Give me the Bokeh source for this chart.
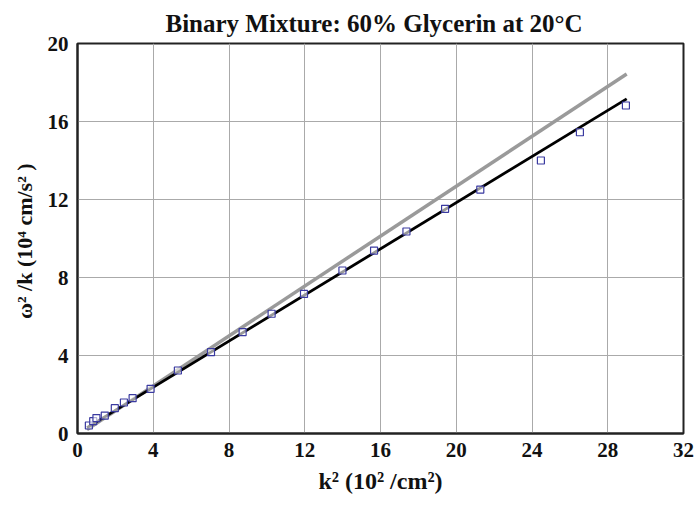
from bokeh.plotting import figure
from bokeh.models import Range1d, FixedTicker, Title
from bokeh.embed import file_html
from bokeh.resources import INLINE

# measured data: k^2 (10^2/cm^2) vs omega^2/k (10^4 cm/s^2)
k2 = [0.60, 0.83, 1.00, 1.44, 1.97, 2.45, 2.91, 3.86, 5.30, 7.05, 8.72,
      10.25, 11.96, 13.99, 15.66, 17.37, 19.41, 21.27, 24.47, 26.53, 28.96]
w2k = [0.41, 0.63, 0.79, 0.92, 1.30, 1.59, 1.81, 2.29, 3.23, 4.17, 5.20,
       6.14, 7.16, 8.36, 9.38, 10.36, 11.52, 12.51, 14.00, 15.45, 16.82]

# fit lines (endpoints)
fit_x = [0.5, 29.0]
fit_black = [0.30, 17.16]
fit_gray = [0.20, 18.44]

x_ticks = [0, 4, 8, 12, 16, 20, 24, 28, 32]
y_ticks = [0, 4, 8, 12, 16, 20]

FONT = "Liberation Serif"

p = figure(width=694, height=506, output_backend="svg", toolbar_location=None,
           x_range=Range1d(0, 32), y_range=Range1d(0, 20),
           min_border_left=77, min_border_right=11, min_border_top=43,
           min_border_bottom=73)

p.title = Title(text="Binary Mixture: 60% Glycerin at 20\u00b0C", align="left",
                text_font=FONT, text_font_size="25px", text_font_style="bold",
                text_color="#111111", offset=88, standoff=13)

p.line(fit_x, fit_gray, line_color="#9a9a9a", line_width=3.5)
p.line(fit_x, fit_black, line_color="black", line_width=2.8)
p.scatter(k2, w2k, marker="square", size=7, line_color="#3a3aa0",
          fill_color="white", fill_alpha=0.6, line_width=1.2)

p.xaxis.ticker = FixedTicker(ticks=x_ticks)
p.yaxis.ticker = FixedTicker(ticks=y_ticks)
p.xaxis.axis_label = "k\u00b2 (10\u00b2 /cm\u00b2)"
p.yaxis.axis_label = "\u03c9\u00b2 /k  (10\u2074 cm/s\u00b2 )"

for ax in (p.xaxis, p.yaxis):
    ax.major_label_text_font = FONT
    ax.major_label_text_font_size = "21px"
    ax.major_label_text_font_style = "bold"
    ax.major_label_text_color = "#111111"
    ax.axis_label_text_font = FONT
    ax.axis_label_text_font_style = "bold"
    ax.axis_label_text_color = "#111111"
    ax.major_tick_line_color = None
    ax.minor_tick_line_color = None
    ax.axis_line_color = "#222222"
    ax.axis_line_width = 2

p.xaxis.axis_label_text_font_size = "24px"
p.yaxis.axis_label_text_font_size = "22px"
p.xaxis.major_label_standoff = 3
p.yaxis.major_label_standoff = 3
p.xaxis.axis_label_standoff = 8
p.yaxis.axis_label_standoff = 8

p.xgrid.grid_line_color = "#aaaaaa"
p.ygrid.grid_line_color = "#aaaaaa"
p.xgrid.grid_line_width = 1
p.ygrid.grid_line_width = 1

p.outline_line_color = "#222222"
p.outline_line_width = 2
p.background_fill_color = "white"
p.border_fill_color = "white"

open("out.html", "w").write(file_html(p, INLINE))
